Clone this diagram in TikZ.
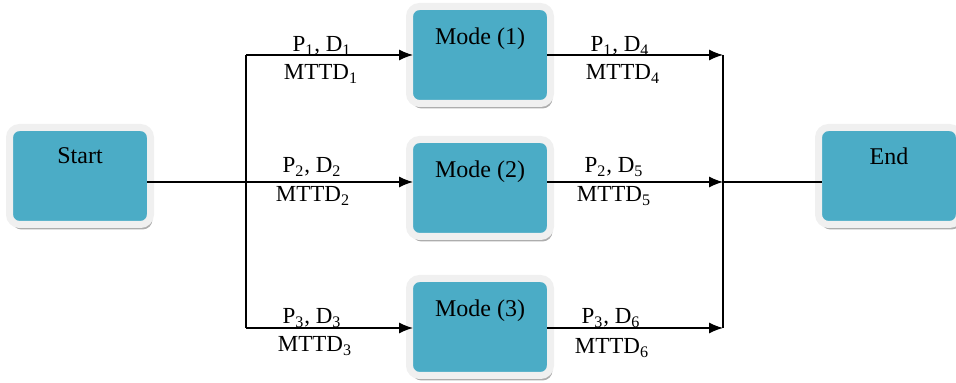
\documentclass[tikz,border=0pt]{standalone}
\usepackage{fontspec}
\setmainfont{Liberation Serif}
\usetikzlibrary{arrows.meta,shadows}
\definecolor{modeteal}{HTML}{4BACC6}

\begin{document}
\begin{tikzpicture}[x=0.5pt,y=-0.5pt,
    box/.style={draw=gray!12, line width=3.5pt, fill=modeteal, rounded corners=5pt,
      minimum width=70.5pt, minimum height=48.5pt, outer sep=-1.75pt, inner sep=0pt,
      drop shadow={shadow xshift=1pt, shadow yshift=-2.5pt, fill=gray!80, opacity=0.8}},
    boxtext/.style={font=\fontsize{12}{14}\selectfont, anchor=north, inner sep=0pt},
    lbl/.style={font=\fontsize{11.5}{13}\selectfont, anchor=base, inner sep=0pt},
    line/.style={black, line width=0.6pt},
    arr/.style={line, -{Latex[length=7pt,width=5.5pt]}}]
        \useasboundingbox (0,0) rectangle (956,383);
        % boxes
        \node[box] (start) at (80,176) {};
        \node[box] (m1) at (480,55) {};
        \node[box] (m2) at (480,188) {};
        \node[box] (m3) at (480,327) {};
        \node[box] (end) at (889,176) {};
        \node[boxtext] (start-t) at ([yshift=-8pt]start.north) {Start};
        \node[boxtext] (m1-t) at ([yshift=-8.5pt]m1.north) {Mode (1)};
        \node[boxtext] (m2-t) at ([yshift=-8.5pt]m2.north) {Mode (2)};
        \node[boxtext] (m3-t) at ([yshift=-8.5pt]m3.north) {Mode (3)};
        \node[boxtext] (end-t) at ([yshift=-8pt]end.north) {End};
        % branch points
        \coordinate (split) at (246,182);
        \coordinate (s1) at (246,55);
        \coordinate (s3) at (246,328);
        \coordinate (j1) at (723,55);
        \coordinate (j2) at (723,182);
        \coordinate (j3) at (723,328);
        % connectors
        \draw[line] (start.east |- split) -- (split);
        \draw[line] (s1) -- (s3);
        \draw[arr] (s1) -- (m1.west |- s1);
        \draw[arr] (split) -- (m2.west |- split);
        \draw[arr] (s3) -- (m3.west |- s3);
        \draw[arr] (m1.east |- j1) -- (j1);
        \draw[arr] (m2.east |- j2) -- (j2);
        \draw[arr] (m3.east |- j3) -- (j3);
        \draw[line] (j1) -- (j3);
        \draw[line] (j2) -- (end.west |- j2);
        % labels
        \node[lbl] (p1) at (322,52) {P\textsubscript{1}, D\textsubscript{1}};
        \node[lbl] (t1) at (321,80) {MTTD\textsubscript{1}};
        \node[lbl] (p4) at (620,52) {P\textsubscript{1}, D\textsubscript{4}};
        \node[lbl] (t4) at (623,80) {MTTD\textsubscript{4}};
        \node[lbl] (p2) at (312,173) {P\textsubscript{2}, D\textsubscript{2}};
        \node[lbl] (t2) at (313,202) {MTTD\textsubscript{2}};
        \node[lbl] (p5) at (614,173) {P\textsubscript{2}, D\textsubscript{5}};
        \node[lbl] (t5) at (614,202) {MTTD\textsubscript{5}};
        \node[lbl] (p3) at (312,324) {P\textsubscript{3}, D\textsubscript{3}};
        \node[lbl] (t3) at (315,352) {MTTD\textsubscript{3}};
        \node[lbl] (p6) at (611,324) {P\textsubscript{3}, D\textsubscript{6}};
        \node[lbl] (t6) at (612,354) {MTTD\textsubscript{6}};
\end{tikzpicture}
\end{document}
